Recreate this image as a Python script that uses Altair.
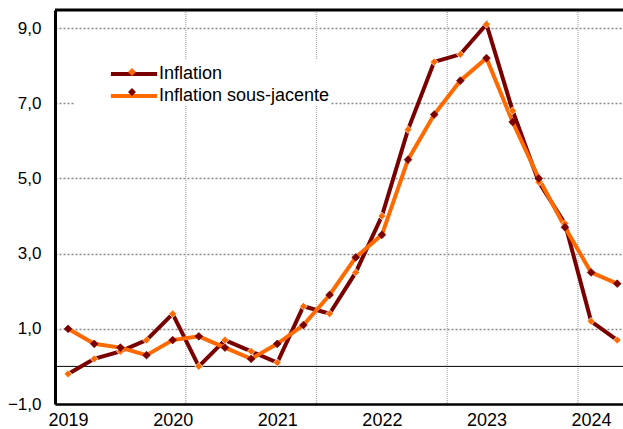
import altair as alt
import pandas as pd

# Quarterly series, 2019 Q1 -> 2024 Q2 (year-on-year, %)
QUARTERS = [f"{y}T{q}" for y in range(2019, 2025) for q in range(1, 5)][:22]
INFLATION = [-0.2, 0.2, 0.4, 0.7, 1.4, 0.0, 0.7, 0.4, 0.1, 1.6, 1.4,
             2.5, 4.0, 6.3, 8.1, 8.3, 9.1, 6.8, 4.9, 3.8, 1.2, 0.7]
CORE = [1.0, 0.6, 0.5, 0.3, 0.7, 0.8, 0.5, 0.2, 0.6, 1.1, 1.9,
        2.9, 3.5, 5.5, 6.7, 7.6, 8.2, 6.5, 5.0, 3.7, 2.5, 2.2]
SERIES = ["Inflation", "Inflation sous-jacente"]
MARKERS = ["m_inflation", "m_sous_jacente"]

YEAR_LABELS = ["2019", "2020", "2021", "2022", "2023", "2024"]
YEAR_TICKS = [0, 4, 8, 12, 16, 20]
Y_TICKS = [-1, 1, 3, 5, 7, 9]
V_GRID = [4.5, 9.5, 14.5, 19.5]

X_DOMAIN = [-0.5, 21.22]
Y_DOMAIN = [-1, 9.48]

DARK = "#7a0000"
ORANGE = "#ff6a00"
FONT = "Liberation Sans"

rows = []
for i, q in enumerate(QUARTERS):
    rows.append({"t": i, "quarter": q, "series": SERIES[0], "marker": MARKERS[0],
                 "value": INFLATION[i]})
    rows.append({"t": i, "quarter": q, "series": SERIES[1], "marker": MARKERS[1],
                 "value": CORE[i]})
df = pd.DataFrame(rows)

x_scale = alt.Scale(domain=X_DOMAIN, nice=False, zero=False)
y_scale = alt.Scale(domain=Y_DOMAIN, nice=False, zero=False)

label_expr_x = "[" + ",".join(f"'{s}'" for s in YEAR_LABELS) + "][datum.value / 4]"

x_axis = alt.Axis(values=YEAR_TICKS, labelExpr=label_expr_x, grid=False, ticks=False,
                  domainColor="black", domainWidth=2.5, labelFont=FONT,
                  labelFontSize=18, labelColor="black", labelPadding=7,
                  labelFlush=False, title=None)
y_axis = alt.Axis(values=Y_TICKS, labelExpr="replace(format(datum.value, '.1f'), '.', ',')",
                  grid=True, gridColor="#8a8a8a", gridDash=[2, 2], gridWidth=1.6,
                  ticks=False, domainColor="black", domainWidth=3, labelFont=FONT,
                  labelFontSize=17, labelColor="black", labelPadding=14, title=None)

base = alt.Chart(df)

# Both legends share one box: a wide stroke (line) with a small diamond (marker) on top.
legend_common = dict(orient="none", legendX=19, legendY=50, title=None,
                     padding=1, rowPadding=0, symbolSize=484,
                     symbolOffset=46, labelOffset=12, labelFont=FONT,
                     labelFontSize=18, labelColor="black", labelLimit=400)

lines = base.mark_line(strokeWidth=4, strokeJoin="miter").encode(
    x=alt.X("t:Q", scale=x_scale, axis=x_axis),
    y=alt.Y("value:Q", scale=y_scale, axis=y_axis),
    color=alt.Color("series:N", sort=SERIES,
                    scale=alt.Scale(domain=SERIES, range=[DARK, ORANGE]),
                    legend=alt.Legend(symbolType="M-2.1,0L2.1,0", symbolStrokeWidth=4,
                                      fillColor="white", **legend_common)),
    order="t:Q",
)

points = base.mark_point(shape="diamond", filled=True, size=60, strokeWidth=0.7, opacity=1).encode(
    x=alt.X("t:Q", scale=x_scale),
    y=alt.Y("value:Q", scale=y_scale),
    fill=alt.Fill("marker:N", sort=MARKERS,
                  scale=alt.Scale(domain=MARKERS, range=[ORANGE, DARK]),
                  legend=alt.Legend(symbolType="M-0.36,0L0,-0.36L0.36,0L0,0.36Z",
                                    symbolStrokeWidth=0, labelExpr="''",
                                    **legend_common)),
    stroke=alt.Stroke("marker:N", scale=alt.Scale(domain=MARKERS, range=["white", DARK]),
                      legend=None),
)

vgrid = alt.Chart(pd.DataFrame({"t": V_GRID})).mark_rule(
    color="#b5b5b5", strokeWidth=1.4, strokeDash=[1, 1]
).encode(x=alt.X("t:Q", scale=x_scale))

zero_line = alt.Chart(pd.DataFrame({"v": [0]})).mark_rule(
    color="black", strokeWidth=1
).encode(y=alt.Y("v:Q", scale=y_scale))

top_border = alt.Chart(pd.DataFrame({"v": [Y_DOMAIN[1]]})).mark_rule(
    color="black", strokeWidth=3
).encode(y=alt.Y("v:Q", scale=y_scale))

chart = alt.layer(vgrid, zero_line, lines, points, top_border).properties(
    width=568, height=394,
    autosize=alt.AutoSizeParams(type="none"),
    padding={"left": 55, "top": 10, "right": 0, "bottom": 25},
).configure_view(stroke=None).configure(background="white")

chart.save("out.html", embed_options={"renderer": "svg", "actions": False})
